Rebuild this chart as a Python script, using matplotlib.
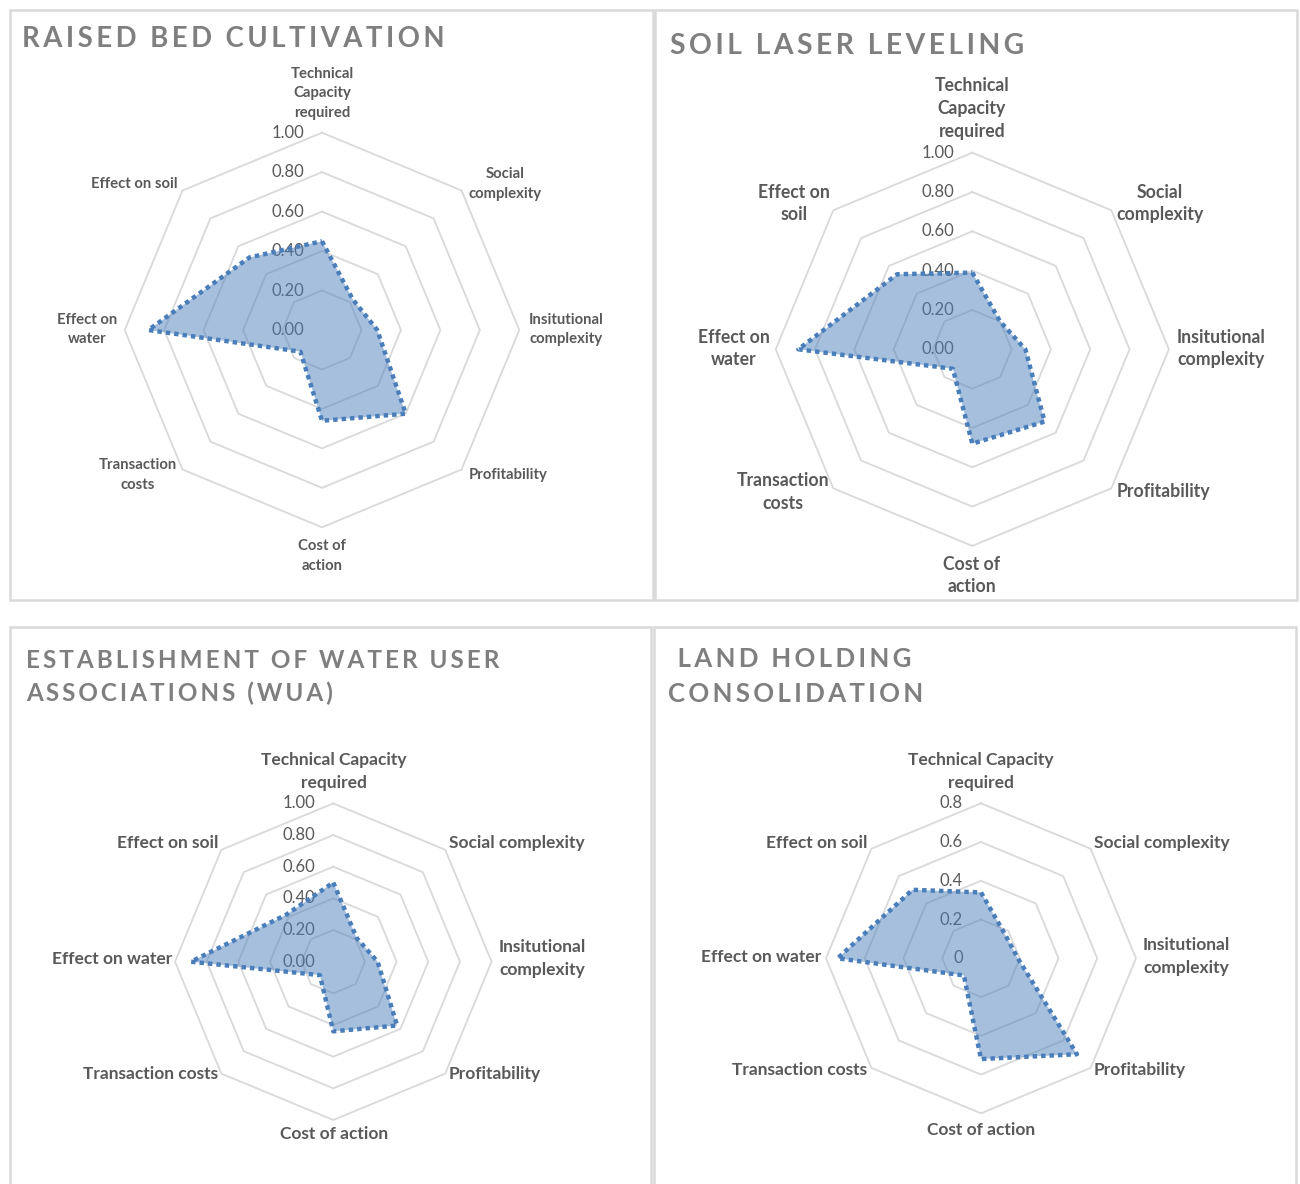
import numpy as np
import matplotlib
matplotlib.use("Agg")
import matplotlib.pyplot as plt
from matplotlib.patches import Rectangle
from matplotlib.transforms import offset_copy

# ---------------- data ----------------
categories = ["Technical Capacity required", "Social complexity",
              "Insitutional complexity", "Profitability", "Cost of action",
              "Transaction costs", "Effect on water", "Effect on soil"]

raised_bed = [0.45, 0.22, 0.28, 0.60, 0.46, 0.155, 0.88, 0.52]
laser_leveling = [0.39, 0.20, 0.27, 0.52, 0.48, 0.14, 0.885, 0.54]
water_user_assoc = [0.50, 0.21, 0.28, 0.57, 0.44, 0.12, 0.90, 0.42]
land_consolidation = [0.34, 0.175, 0.19, 0.70, 0.52, 0.125, 0.74, 0.50]

ticks_100 = [0.0, 0.2, 0.4, 0.6, 0.8, 1.0]
tick_labels_100 = ["0.00", "0.20", "0.40", "0.60", "0.80", "1.00"]
ticks_08 = [0.0, 0.2, 0.4, 0.6, 0.8]
tick_labels_08 = ["0", "0.2", "0.4", "0.6", "0.8"]

titles = ["RAISED BED CULTIVATION", "SOIL LASER LEVELING",
          "ESTABLISHMENT OF WATER USER\nASSOCIATIONS (WUA)",
          " LAND HOLDING\nCONSOLIDATION"]

labels_narrow = ["Technical\nCapacity\nrequired", "Social\ncomplexity",
                 "Insitutional\ncomplexity", "Profitability", "Cost of\naction",
                 "Transaction\ncosts", "Effect on\nwater", "Effect on soil"]
labels_narrow2 = labels_narrow[:7] + ["Effect on\nsoil"]
labels_wide = ["Technical Capacity\nrequired", "Social complexity",
               "Insitutional\ncomplexity", "Profitability", "Cost of action",
               "Transaction costs", "Effect on water", "Effect on soil"]

# ---------------- layout (pixels) ----------------
W, H, DPI = 1300, 1184, 100

panels = [
    dict(values=raised_bed, ticks=ticks_100, tlabels=tick_labels_100,
         labels=labels_narrow, title=titles[0], center=(322, 330), R=197.3,
         frame=(10, 10, 653, 600), title_xy=(22, 39), title_size=19.8,
         title_ls=1.25, label_size=10.7, label_ls=1.52,
         label_xy=[(322, 93.5), (505, 184), (566, 329.5), (508, 475),
                   (322, 556), (138, 475), (87, 329.5), (134, 184)]),
    dict(values=laser_leveling, ticks=ticks_100, tlabels=tick_labels_100,
         labels=labels_narrow2, title=titles[1], center=(972.3, 349.3), R=196.6,
         frame=(655, 10, 1297, 600), title_xy=(670, 46), title_size=20.3,
         title_ls=1.25, label_size=12.7, label_ls=1.41,
         label_xy=[(972, 108.5), (1160, 203.5), (1221, 348.5), (1163, 492),
                   (972, 575.5), (783, 492), (734, 348.5), (794, 203.5)]),
    dict(values=water_user_assoc, ticks=ticks_100, tlabels=tick_labels_100,
         labels=labels_wide, title=titles[2], center=(333.3, 961.7), R=158.3,
         frame=(10, 627, 651, 1200), title_xy=(26, 677), title_size=17.5,
         title_ls=1.5, label_size=12.5, label_ls=1.55,
         label_xy=[(334, 771.5), (517, 843), (542, 958.5), (495, 1074),
                   (334, 1134), (151, 1074), (112, 959), (168, 843)]),
    dict(values=land_consolidation, ticks=ticks_08, tlabels=tick_labels_08,
         labels=labels_wide, title=titles[3], center=(981, 958.3), R=155.0,
         frame=(654, 627, 1296, 1200), title_xy=(668, 676.5), title_size=18.6,
         title_ls=1.55, label_size=12.5, label_ls=1.55,
         label_xy=[(981, 771.5), (1162, 843), (1186, 956.5), (1140, 1070),
                   (981, 1130), (800, 1070), (761, 957), (817, 843)]),
]

FONT = ["Lato", "DejaVu Sans"]
plt.rcParams["font.family"] = FONT

TEXT_DARK = "#595959"
TITLE_GRAY = "#7f7f7f"
GRID = "#d9d9d9"
FRAME = "#d9d9d9"
FILL = "#4f81bd"
EDGE = "#4a7ebb"


def fx(x):
    return x / W


def fy(y):
    return 1 - y / H


def spaced(text):
    """Widen the tracking of a heading with thin spaces between letters."""
    lines = []
    for line in text.split("\n"):
        lines.append("\u2009".join(line))
    return "\n".join(lines)


fig = plt.figure(figsize=(W / DPI, H / DPI), dpi=DPI)
fig.patch.set_facecolor("white")

n = len(categories)
angles = np.linspace(0, 2 * np.pi, n, endpoint=False)
angles_closed = np.append(angles, angles[0])

for p in panels:
    # panel frame
    x0, y0, x1, y1 = p["frame"]
    fig.add_artist(Rectangle((fx(x0), fy(y1)), fx(x1 - x0), (y1 - y0) / H,
                             transform=fig.transFigure, fill=False,
                             edgecolor=FRAME, linewidth=1.8, zorder=0))

    cx, cy = p["center"]
    R = p["R"]
    rmax = p["ticks"][-1]
    ax = fig.add_axes([fx(cx - R), fy(cy + R), 2 * R / W, 2 * R / H],
                      projection="polar")
    ax.set_theta_zero_location("N")
    ax.set_theta_direction(-1)
    ax.set_ylim(0, rmax)
    ax.grid(False)
    ax.set_xticks([])
    ax.set_yticks([])
    ax.spines["polar"].set_visible(False)
    ax.patch.set_visible(False)

    # octagonal rings
    for t in p["ticks"][1:]:
        ax.plot(angles_closed, [t] * (n + 1), color=GRID, lw=1.3,
                zorder=1, clip_on=False)

    # radial value labels along the top axis
    trans = offset_copy(ax.transData, fig=fig, x=-18, y=0, units="dots")
    for t, lab in zip(p["ticks"], p["tlabels"]):
        ax.text(0, t, lab, transform=trans, ha="right", va="center",
                fontsize=12, color=TEXT_DARK, zorder=2, clip_on=False)

    # series
    vals = np.array(p["values"])
    vals_closed = np.append(vals, vals[0])
    ax.fill(angles_closed, vals_closed, color=FILL, alpha=0.5, lw=0,
            zorder=3)
    ax.plot(angles_closed, vals_closed, color=EDGE, lw=3.2,
            linestyle=(0, (1, 0.9)), dash_capstyle="butt", zorder=4,
            clip_on=False)

    # category labels
    for lab, (lx, ly) in zip(p["labels"], p["label_xy"]):
        fig.text(fx(lx), fy(ly), lab, ha="center", va="center",
                 fontsize=p["label_size"], fontweight="bold",
                 color=TEXT_DARK, linespacing=p["label_ls"])

    # panel heading
    tx, ty = p["title_xy"]
    fig.text(fx(tx), fy(ty), spaced(p["title"]), ha="left", va="center",
             fontsize=p["title_size"], fontweight="bold", color=TITLE_GRAY,
             linespacing=p["title_ls"])

fig.savefig("out.png", dpi=DPI, facecolor="white")
